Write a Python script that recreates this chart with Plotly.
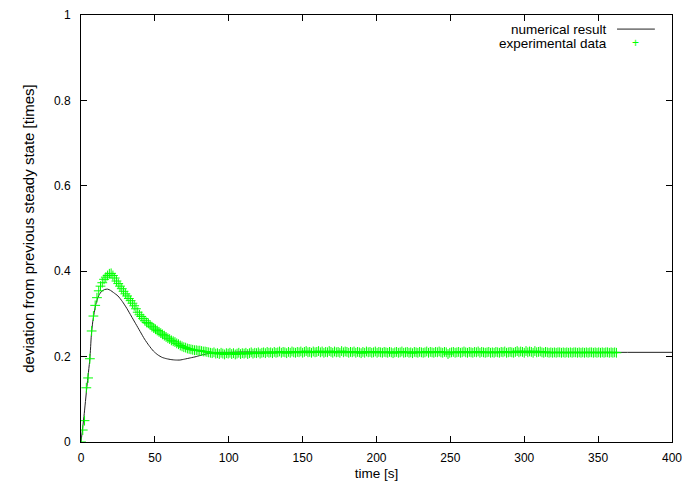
import numpy as np
import plotly.graph_objects as go

# numerical result
num_time = [0, 2, 4, 6, 7, 8, 10, 12, 14, 16, 18, 20, 22, 25, 28, 31, 34, 37, 40, 43,
            46, 49, 52, 55, 58, 61, 64, 67, 70, 74, 78, 82, 86, 90, 95, 100, 110, 130, 400]
num_value = [0, 0.06, 0.13, 0.195, 0.25, 0.283, 0.322, 0.343, 0.353, 0.357, 0.358, 0.355,
             0.350, 0.342, 0.329, 0.313, 0.295, 0.277, 0.259, 0.241, 0.226, 0.213, 0.204,
             0.198, 0.195, 0.193, 0.192, 0.192, 0.194, 0.197, 0.200, 0.204, 0.207, 0.209,
             0.210, 0.210, 0.211, 0.210, 0.210]

# experimental data, sampled every SAMPLE_STEP seconds
SAMPLE_STEP = 1.2
exp_value = [
    0.0, 0.028, 0.05, 0.127, 0.15, 0.195, 0.26, 0.295, 0.32, 0.338,
    0.354, 0.365, 0.373, 0.381, 0.386, 0.39, 0.394, 0.395, 0.39, 0.384,
    0.377, 0.371, 0.365, 0.359, 0.353, 0.347, 0.342, 0.336, 0.331, 0.325,
    0.319, 0.312, 0.304, 0.298, 0.294, 0.289, 0.284, 0.28, 0.278, 0.274,
    0.27, 0.267, 0.264, 0.261, 0.258, 0.255, 0.252, 0.249, 0.246, 0.243,
    0.241, 0.238, 0.236, 0.234, 0.231, 0.229, 0.226, 0.224, 0.222, 0.221,
    0.219, 0.218, 0.217, 0.216, 0.215, 0.215, 0.214, 0.214, 0.213, 0.212,
    0.212, 0.211, 0.21,
    .209, .208, .210, .207, .208, .206, .209, .207, .205, .208,
    .207, .209, .206, .208, .205, .207, .209, .206, .208, .207,
    .209, .206, .208, .210, .207, .209, .208, .210, .207, .209,
    .210, .208, .211, .209, .210, .208, .211, .209, .210, .212,
    .209, .211, .210, .208, .211, .209, .212, .210, .209, .211,
    .210, .212, .209, .211, .213, .210, .211, .209, .212, .210,
    .211, .213, .210, .212, .209, .211, .210, .213, .211, .209,
    .212, .210, .211, .209, .213, .210, .212, .211, .209, .211,
    .210, .212, .209, .211, .210, .208, .211, .209, .212, .210,
    .211, .209, .210, .212, .209, .211, .210, .209, .211, .210,
    .209, .211, .210, .208, .210, .211, .209, .210, .212, .209,
    .210, .211, .209, .210, .208, .211, .210, .209, .211, .210,
    .209, .210, .212, .209, .211, .210, .209, .211, .210, .212,
    .210, .209, .211, .210, .206, .209, .210, .211, .209, .210,
    .211, .209, .210, .212, .210, .209, .211, .210, .209, .211,
    .210, .212, .209, .211, .210, .209, .210, .211, .209, .210,
    .209, .211, .210, .209, .211, .210, .212, .209, .210, .211,
    .210, .209, .211, .213, .210, .212, .211, .209, .213, .210,
    .212, .211, .209, .213, .210, .211, .212, .210, .209, .211,
    .210, .209, .210, .209, .210, .209, .210, .210, .209, .210,
    .209, .210, .209, .210, .209, .210, .210, .209, .210, .209,
    .210, .209, .210, .209, .210, .210, .209, .210, .209, .210,
    .209, .210, .209, .210, .210, .209, .210, .209, .210, .209,
]
exp_time = np.arange(len(exp_value)) * SAMPLE_STEP

x_ticks = [0, 50, 100, 150, 200, 250, 300, 350, 400]
y_ticks = [0, 0.2, 0.4, 0.6, 0.8, 1]
y_tick_text = ['0', '0.2', '0.4', '0.6', '0.8', '1']

GREEN = '#00ff00'
FAMILY = 'Liberation Sans, Arial, sans-serif'
TICK_FONT = dict(family=FAMILY, size=12, color='black')
TEXT_FONT = dict(family=FAMILY, size=13.5, color='black')

# the page body has an 8px margin, so the figure is shrunk by that much
PAGE_PAD = 8

fig = go.Figure()
fig.add_trace(go.Scatter(x=num_time, y=num_value, mode='lines', name='numerical result',
                         line=dict(color='#222222', width=1, shape='spline', smoothing=0.6)))
fig.add_trace(go.Scatter(x=exp_time, y=exp_value, mode='markers', name='experimental data',
                         marker=dict(symbol='cross-thin', size=7, line=dict(color=GREEN, width=1))))

axis_style = dict(showline=True, linecolor='black', linewidth=1, mirror='allticks',
                  ticks='inside', ticklen=6, tickcolor='black', showgrid=False,
                  zeroline=False, tickfont=TICK_FONT, automargin=False)

fig.update_xaxes(range=[0, 400], tickvals=x_ticks, ticklabelstandoff=5,
                 title=dict(text='time [s]', font=TEXT_FONT, standoff=4), **axis_style)
fig.update_yaxes(range=[0, 1], tickvals=y_ticks, ticktext=y_tick_text, ticklabelstandoff=7,
                 title=dict(text='deviation from previous steady state [times]',
                            font=dict(family=FAMILY, size=15, color='black'), standoff=15),
                 **axis_style)

# gnuplot-style key: text on the left, sample on the right
fig.add_annotation(x=0.893, y=0.967, xref='paper', yref='paper', text='numerical result',
                   showarrow=False, xanchor='right', yanchor='middle', font=TEXT_FONT)
fig.add_annotation(x=0.893, y=0.934, xref='paper', yref='paper', text='experimental data',
                   showarrow=False, xanchor='right', yanchor='middle', font=TEXT_FONT)
fig.add_shape(type='line', xref='paper', yref='paper', x0=0.907, x1=0.971, y0=0.967, y1=0.967,
              line=dict(color='#222222', width=1))
fig.add_annotation(x=0.939, y=0.934, xref='paper', yref='paper', text='+',
                   showarrow=False, xanchor='center', yanchor='middle',
                   font=dict(family=FAMILY, size=12, color=GREEN))

fig.update_layout(width=692 - PAGE_PAD, height=485 - PAGE_PAD, showlegend=False,
                  margin=dict(l=81 - PAGE_PAD, r=20, t=15 - PAGE_PAD, b=43),
                  paper_bgcolor='white', plot_bgcolor='white', font=TICK_FONT)

fig.write_html("out.html")
